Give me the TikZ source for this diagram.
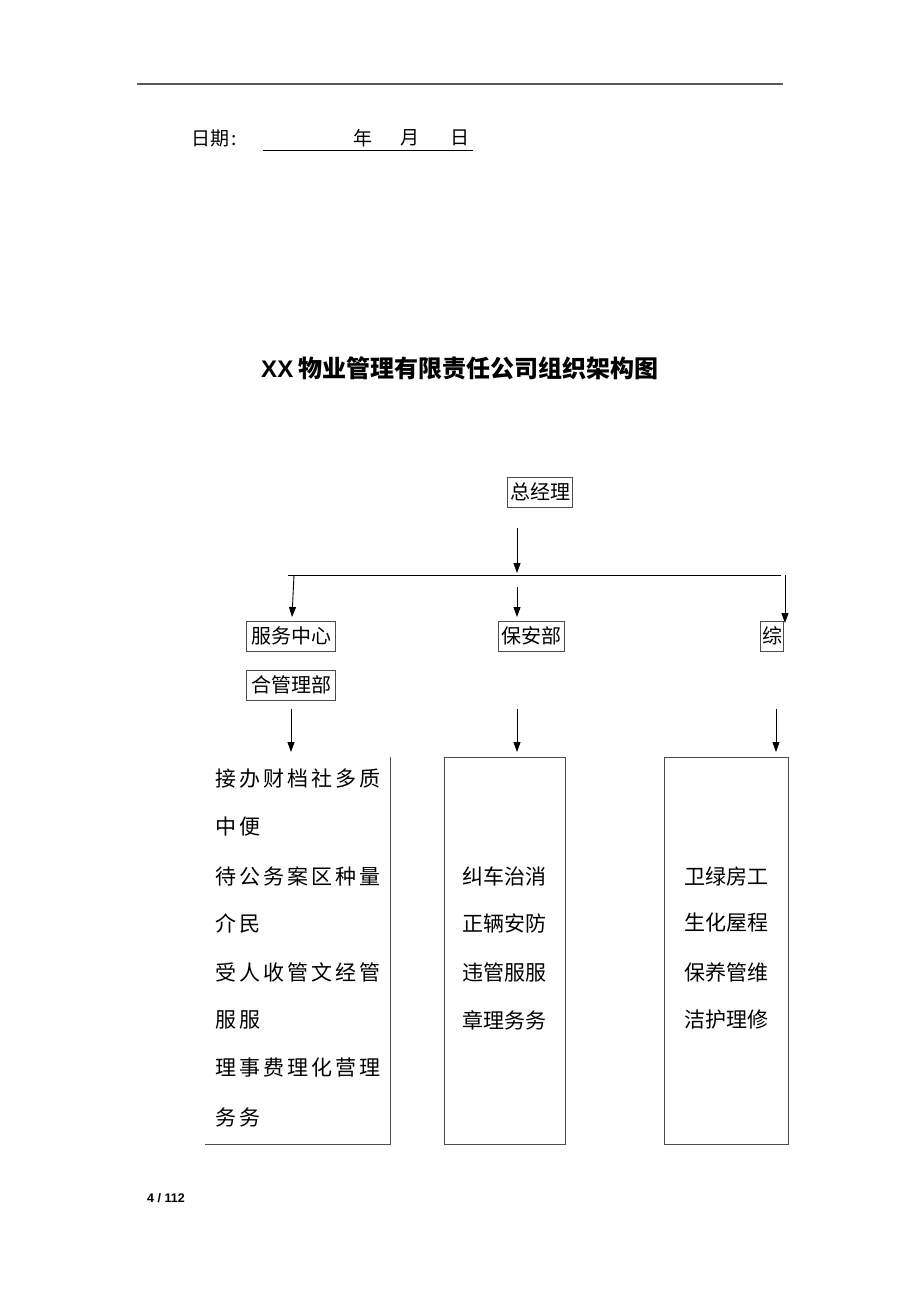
\documentclass[tikz,border=0pt]{standalone}
\usepackage{fontspec}
\setmainfont{Noto Sans CJK SC}
\newfontfamily\latinf{Liberation Sans}
\usetikzlibrary{arrows.meta}
\makeatletter
\def\lsloop#1{\ifx#1\relax\else#1\hspace{3pt}\expandafter\lsloop\fi}
\newcommand\spaced[1]{\lsloop#1\relax}
\makeatother
\begin{document}
\begin{tikzpicture}[x=1pt,y=-1pt,
  box/.style={draw=black!70, line width=0.8pt, inner sep=0pt, minimum height=30pt,
    font=\fontsize{20}{24}\selectfont},
  arr/.style={-{Triangle[length=10pt,width=7pt]}, line width=0.9pt},
  line/.style={line width=0.9pt},
  col/.style={draw=black!70, line width=0.8pt, inner sep=0pt, minimum width=#1, minimum height=387pt},
  body/.style={anchor=west, inner sep=0pt, font=\fontsize{21}{24}\selectfont},
  datef/.style={inner sep=0pt, font=\fontsize{19}{22}\selectfont}]
\useasboundingbox (0,0) rectangle (920,1302);

% header
\coordinate (hl) at (137,84);
\coordinate (hr) at (783,84);
\draw[black!65, line width=1.3pt] (hl) -- (hr);
\node[datef, anchor=west] (date) at (191,138) {日期\hspace{2pt}:};
\coordinate (ul) at (263,150);
\coordinate (ur) at (473,150);
\draw[line width=1pt] (ul) -- (ur);
\node[datef] (yr) at (363,138) {年};
\node[datef] (mo) at (410,138) {月};
\node[datef] (dy) at (460,138) {日};

% title
\node[inner sep=0pt, font=\fontsize{24}{28}\selectfont\bfseries] (title) at (460,368)
  {{\latinf\bfseries XX} 物业管理有限责任公司组织架构图};

% boxes
\node[box, minimum width=65pt] (gm) at (540,492) {总经理};
\node[box, minimum width=89pt] (fw) at (291,636) {服务中心};
\node[box, minimum width=89pt] (zh) at (291,685) {合管理部};
\node[box, minimum width=66pt] (ba) at (531,636) {保安部};
\node[box, minimum width=23pt] (zo) at (772,636) {综};

% connectors
\coordinate (a0s) at (517,528);
\coordinate (a0e) at (517,573);
\draw[arr] (a0s) -- (a0e);
\coordinate (barL) at (288,575);
\coordinate (barR) at (781,575);
\draw[line] (barL) -- (barR);
\coordinate (a1s) at (294,575);
\coordinate (a1e) at (292,617);
\draw[arr] (a1s) -- (a1e);
\coordinate (a2s) at (517,587);
\coordinate (a2e) at (517,617);
\draw[arr] (a2s) -- (a2e);
\coordinate (a3s) at (785,575);
\coordinate (a3e) at (785,623);
\draw[arr] (a3s) -- (a3e);

\coordinate (b1s) at (291,709);
\coordinate (b1e) at (291,752);
\draw[arr] (b1s) -- (b1e);
\coordinate (b2s) at (517,709);
\coordinate (b2e) at (517,752);
\draw[arr] (b2s) -- (b2e);
\coordinate (b3s) at (776,709);
\coordinate (b3e) at (776,752);
\draw[arr] (b3s) -- (b3e);

% columns
\node[inner sep=0pt, minimum width=185pt, minimum height=387pt] (lc) at (297.5,950.5) {};
\draw[black!70, line width=0.8pt] (lc.north east) -- (lc.south east) -- (lc.south west);
\node[col=121pt] (mc) at (505,950.5) {};
\node[col=124pt] (rc) at (726.5,950.5) {};

% left column text
\node[body] (l1) at (215,779) {\spaced{接办财档社多质}};
\node[body] (l2) at (215,827) {\spaced{中便}};
\node[body] (l3) at (215,876) {\spaced{待公务案区种量}};
\node[body] (l4) at (215,923) {\spaced{介民}};
\node[body] (l5) at (215,972) {\spaced{受人收管文经管}};
\node[body] (l6) at (215,1020) {\spaced{服服}};
\node[body] (l7) at (215,1068) {\spaced{理事费理化营理}};
\node[body] (l8) at (215,1117) {\spaced{务务}};

% middle column text
\node[body] (m1) at (462,876) {纠车治消};
\node[body] (m2) at (462,923) {正辆安防};
\node[body] (m3) at (462,972) {违管服服};
\node[body] (m4) at (462,1020) {章理务务};

% right column text
\node[body] (r1) at (684,876) {卫绿房工};
\node[body] (r2) at (684,923) {生化屋程};
\node[body] (r3) at (684,972) {保养管维};
\node[body] (r4) at (684,1020) {洁护理修};

% page number
\node[anchor=west, inner sep=0pt, font=\latinf\bfseries\fontsize{12.5}{14}\selectfont] (pg) at (147,1198) {4 / 112};
\end{tikzpicture}
\end{document}
